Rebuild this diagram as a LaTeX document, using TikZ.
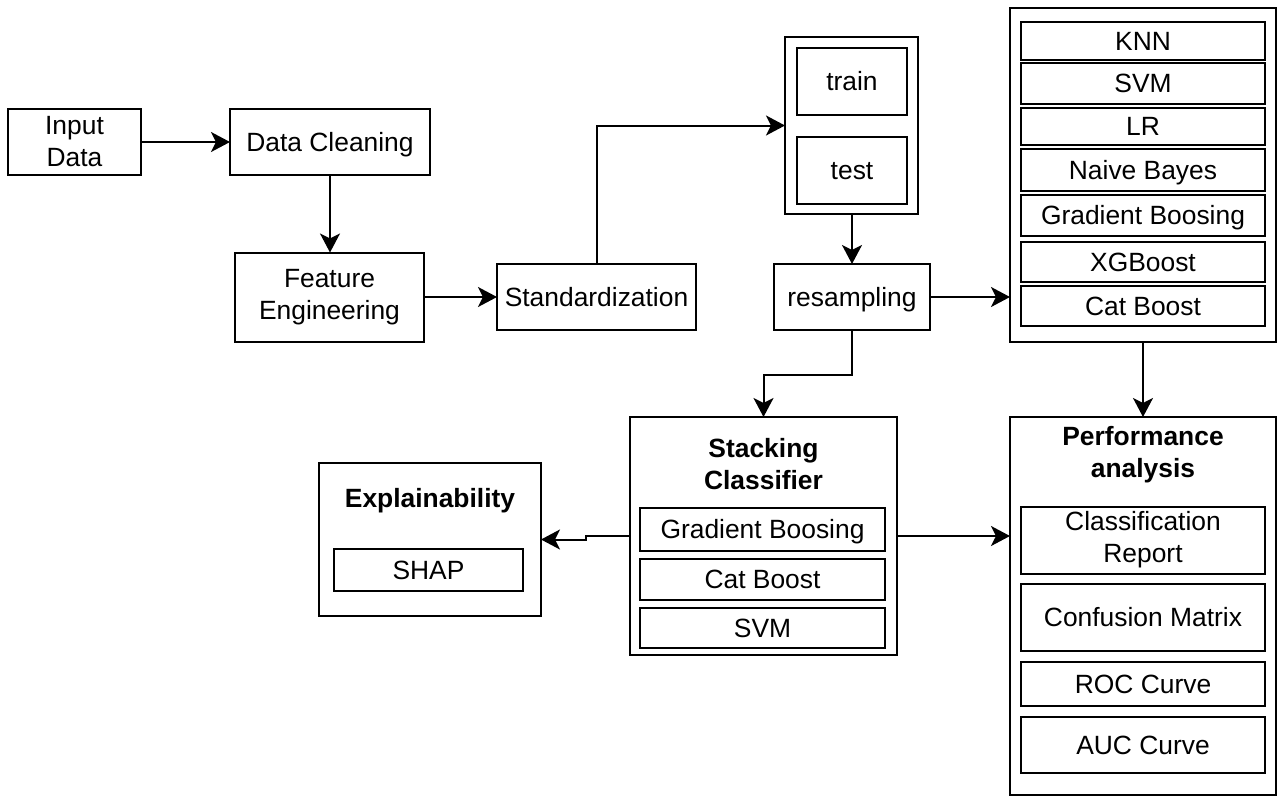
\documentclass[tikz,border=0pt]{standalone}
\usepackage{fontspec}
\setmainfont{Liberation Sans}
\usetikzlibrary{arrows.meta,calc}
\begin{document}
\begin{tikzpicture}[x=1pt,y=-1pt,
  every node/.style={inner sep=0pt,outer sep=0pt,align=center,font=\fontsize{26.4}{32}\selectfont},
  box/.style={draw,line width=2pt,fill=white},
  one/.style={text height=23.9pt,text depth=5.6pt},
  ttl/.style={font=\fontsize{26.4}{32}\selectfont\bfseries},
  arr/.style={line width=2pt,-{Stealth[length=19pt,width=20pt,inset=5pt]}},
  ln/.style={line width=2pt}]
\useasboundingbox (0,0) rectangle (1283,804);
\fill[white] (0,0) rectangle (1283,804);

% left chain
\node[box,minimum width=133,minimum height=66] (inp) at (74.5,142) {Input\\Data};
\node[box,one,minimum width=200,minimum height=66] (clean) at (330,142) {Data Cleaning};
\node[box,minimum width=189,minimum height=89] (feat) at (329.5,297) {Feature\\Engineering};
\node[box,one,minimum width=199,minimum height=66] (std) at (596.5,297) {Standardization};

% split
\node[box,minimum width=133,minimum height=177] (split) at (851.5,125.5) {};
\node[box,one,minimum width=110,minimum height=67] (train) at (852,81.5) {train};
\node[box,one,minimum width=110,minimum height=67] (test) at (852,170.5) {test};
\node[box,one,minimum width=156,minimum height=66] (resamp) at (852,297) {resampling};

% models
\node[box,minimum width=266,minimum height=334] (models) at (1143,175) {};
\node[box,one,minimum width=244,minimum height=38] (knn) at (1143,41) {KNN};
\node[box,one,minimum width=244,minimum height=41] (svm) at (1143,83.5) {SVM};
\node[box,one,minimum width=244,minimum height=37] (lr) at (1143,126.5) {LR};
\node[box,one,minimum width=244,minimum height=42] (nb) at (1143,170) {Naive Bayes};
\node[box,one,minimum width=244,minimum height=41] (gb) at (1143,215.5) {Gradient Boosing};
\node[box,one,minimum width=244,minimum height=40] (xgb) at (1143,262) {XGBoost};
\node[box,one,minimum width=244,minimum height=40] (cb) at (1143,306) {Cat Boost};

% stacking
\node[box,minimum width=267,minimum height=238] (stack) at (763.5,536) {};
\node[ttl] (stackt) at (763.5,464.5) {Stacking\\Classifier};
\node[box,one,minimum width=245,minimum height=43] (sgb) at (762.5,529.5) {Gradient Boosing};
\node[box,one,minimum width=245,minimum height=41] (scb) at (762.5,579.5) {Cat Boost};
\node[box,one,minimum width=245,minimum height=40] (ssvm) at (762.5,628) {SVM};

% performance
\node[box,minimum width=266,minimum height=378] (perf) at (1143,606) {};
\node[ttl] (perft) at (1143,454.5) {Performance\\analysis};
\node[box,minimum width=244,minimum height=67] (cr) at (1143,540) {Classification\\Report};
\node[box,one,minimum width=244,minimum height=67] (cm) at (1143,617.5) {Confusion Matrix};
\node[box,one,minimum width=244,minimum height=44] (roc) at (1143,684) {ROC Curve};
\node[box,one,minimum width=244,minimum height=56] (auc) at (1143,745) {AUC Curve};

% explainability
\node[box,minimum width=222,minimum height=153] (expl) at (430,539.5) {};
\node[ttl,one] (explt) at (430,498) {Explainability};
\node[box,one,minimum width=189,minimum height=42] (shap) at (428.5,570) {SHAP};

% connectors
\draw[arr] (inp) -- (clean);
\draw[arr] (clean) -- (clean.south |- feat.north);
\draw[arr] (feat.east |- std.west) -- (std.west);
\draw[arr] (std.north) |- (split.west);
\draw[arr] (split.south -| resamp.north) -- (resamp.north);
\draw[arr] (resamp.east) -- (resamp.east -| models.west);
\draw[arr] (resamp.south) -- ++(0,45) -| (stack.north);
\draw[arr] (models.south) -- (perf.north);
\draw[arr] (stack.east) -- (stack.east -| perf.west);
\draw[arr] (stack.west) -- ++(-44,0) |- (expl.east);
\end{tikzpicture}
\end{document}
